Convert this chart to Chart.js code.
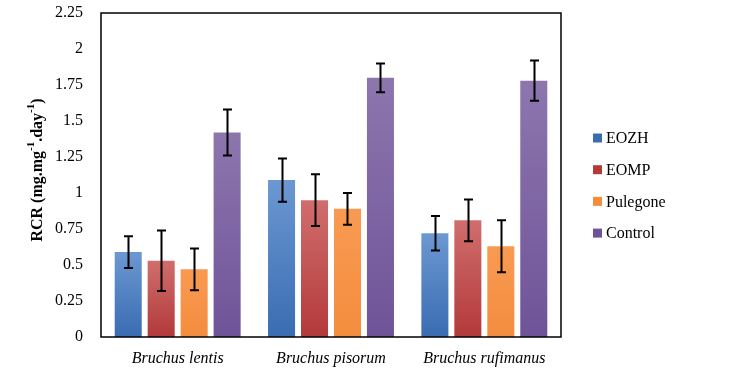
<!DOCTYPE html>
<html>
<head>
<meta charset="utf-8">
<script src="https://cdn.jsdelivr.net/npm/chart.js@4"></script>
<style>
  html, body { margin: 0; padding: 0; background: #fff; }
  #wrap { width: 739px; height: 382px; }
</style>
</head>
<body>
<div id="wrap"><canvas id="rcr"></canvas></div>
<script>
// ===== Data =====
const categories = ['Bruchus lentis', 'Bruchus pisorum', 'Bruchus rufimanus'];
const seriesNames = ['EOZH', 'EOMP', 'Pulegone', 'Control'];
const eozh     = [0.59, 1.09, 0.72];
const eomp     = [0.53, 0.95, 0.81];
const pulegone = [0.47, 0.89, 0.63];
const control  = [1.42, 1.80, 1.78];
const eozhErr     = [0.11, 0.15, 0.12];
const eompErr     = [0.21, 0.18, 0.145];
const pulegoneErr = [0.145, 0.11, 0.18];
const controlErr  = [0.16, 0.10, 0.14];
const yTicks = ['0', '0.25', '0.5', '0.75', '1', '1.25', '1.5', '1.75', '2', '2.25'];

// ===== Styles =====
const SERIF = '"Liberation Serif", "Times New Roman", serif';
const shades = [
  ['#6c98d2', '#3a6cb2'],
  ['#d06e6d', '#b3393a'],
  ['#f99a52', '#f38d3e'],
  ['#8d76ae', '#6f5398']
];

// bar fill: light on top, darker at the base
function barFill(i) {
  return c => {
    const chart = c.chart;
    const y = chart.scales.y;
    if (!chart.chartArea || !y || c.raw == null) return shades[i][1];
    const top = y.getPixelForValue(c.raw);
    const g = chart.ctx.createLinearGradient(0, top, 0, y.getPixelForValue(0));
    g.addColorStop(0, shades[i][0]);
    g.addColorStop(1, shades[i][1]);
    return g;
  };
}

const values = [eozh, eomp, pulegone, control];
const errors = [eozhErr, eompErr, pulegoneErr, controlErr];

// ===== Plugins =====
const errorBars = {
  id: 'errorBars',
  afterDatasetsDraw(chart) {
    const { ctx } = chart;
    const y = chart.scales.y;
    ctx.save();
    ctx.strokeStyle = '#000';
    ctx.lineWidth = 2;
    chart.data.datasets.forEach((ds, i) => {
      chart.getDatasetMeta(i).data.forEach((bar, j) => {
        const v = ds.data[j], e = errors[i][j];
        const y1 = y.getPixelForValue(v + e), y2 = y.getPixelForValue(v - e);
        const x = Math.round(bar.x) + 0.5;
        ctx.beginPath();
        ctx.moveTo(x, y1); ctx.lineTo(x, y2);
        ctx.moveTo(x - 4.5, y1); ctx.lineTo(x + 4.5, y1);
        ctx.moveTo(x - 4.5, y2); ctx.lineTo(x + 4.5, y2);
        ctx.stroke();
      });
    });
    ctx.restore();
  }
};

const frame = {
  id: 'frame',
  afterDraw(chart) {
    const { ctx, chartArea: a } = chart;
    ctx.save();
    // plot box
    ctx.strokeStyle = '#000';
    ctx.lineWidth = 1.5;
    ctx.strokeRect(a.left, a.top, a.right - a.left, a.bottom - a.top);

    // y title with superscripts
    const parts = [
      ['RCR (mg.mg', false], ['-1', true], ['.day', false], ['-1', true], [')', false]
    ];
    const big = 'bold 16px ' + SERIF, small = 'bold 11px ' + SERIF;
    let total = 0;
    parts.forEach(p => { ctx.font = p[1] ? small : big; total += ctx.measureText(p[0]).width; });
    ctx.translate(37, 170);
    ctx.rotate(-Math.PI / 2);
    ctx.fillStyle = '#000';
    ctx.textBaseline = 'middle';
    let x = -total / 2;
    parts.forEach(p => {
      ctx.font = p[1] ? small : big;
      ctx.fillText(p[0], x, p[1] ? -6 : 1);
      x += ctx.measureText(p[0]).width;
    });
    ctx.restore();

    // legend
    ctx.save();
    ctx.font = '16px ' + SERIF;
    ctx.textBaseline = 'middle';
    seriesNames.forEach((name, i) => {
      const cy = 138 + i * 31.7;
      ctx.fillStyle = shades[i][1];
      ctx.fillRect(593, cy - 4.5, 9, 9);
      ctx.fillStyle = '#000';
      ctx.fillText(name, 606, cy + 1);
    });
    ctx.restore();
  }
};

// ===== Chart =====
new Chart(document.getElementById('rcr'), {
  type: 'bar',
  data: {
    labels: categories,
    datasets: seriesNames.map((name, i) => ({
      label: name,
      data: values[i],
      backgroundColor: barFill(i),
      borderWidth: 0,
      categoryPercentage: 0.86,
      barPercentage: 0.82
    }))
  },
  options: {
    responsive: true,
    maintainAspectRatio: false,
    animation: false,
    layout: { padding: { top: 13, right: 178, left: 0, bottom: 0 } },
    plugins: { legend: { display: false }, tooltip: { enabled: false } },
    scales: {
      x: {
        grid: { display: false, drawTicks: false },
        border: { display: false },
        ticks: {
          color: '#000',
          padding: 12,
          font: { family: SERIF, size: 16, style: 'italic' }
        },
        afterFit: s => { s.height = 45; }
      },
      y: {
        min: 0,
        max: 2.25,
        grid: { display: false, drawTicks: false },
        border: { display: false },
        ticks: {
          stepSize: 0.25,
          color: '#000',
          padding: 18,
          font: { family: SERIF, size: 16 },
          callback: (v, i) => yTicks[i]
        },
        afterFit: s => { s.width = 101; s.paddingTop = 0; s.paddingBottom = 0; }
      }
    }
  },
  plugins: [errorBars, frame]
});
</script>
</body>
</html>
